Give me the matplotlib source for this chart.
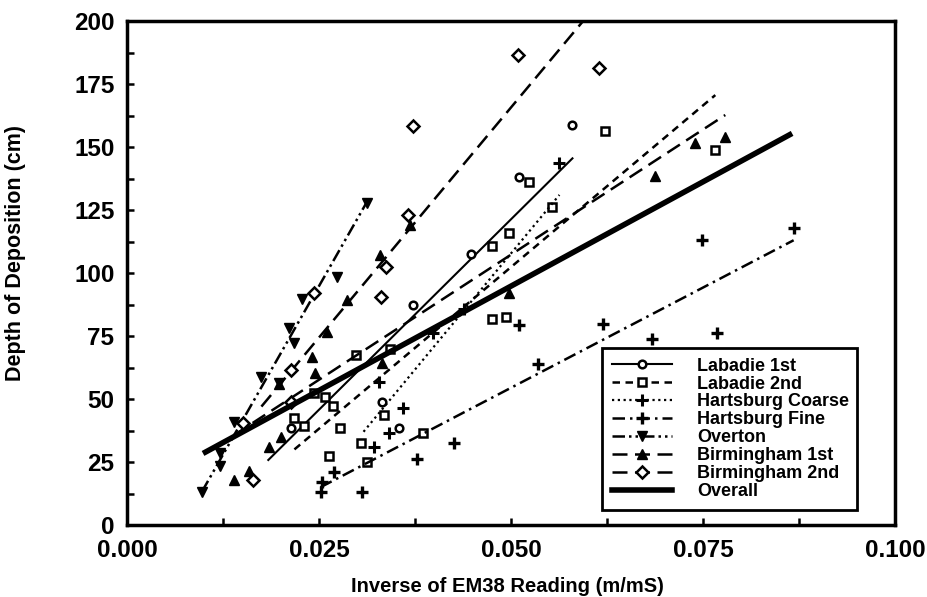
import numpy as np
import matplotlib
matplotlib.use("Agg")
import matplotlib.pyplot as plt
from matplotlib.lines import Line2D
from matplotlib.ticker import MultipleLocator, FormatStrFormatter

plt.rcParams['font.family'] = ['Liberation Sans', 'DejaVu Sans']
plt.rcParams['font.weight'] = 'bold'

# Measured points, x = 1/EM38 (m/mS), y = depth (cm)
lab1_x = [0.0214, 0.0332, 0.0354, 0.0373, 0.0448, 0.0510, 0.0580]
lab1_y = [38.5, 48.8, 38.5, 87.3, 107.5, 138.1, 158.7]

lab2_x = [0.0218, 0.0231, 0.0243, 0.0258, 0.0268, 0.0277, 0.0263, 0.0305, 0.0312,
          0.0298, 0.0334, 0.0385, 0.0343, 0.0475, 0.0498, 0.0524, 0.0554, 0.0623,
          0.0475, 0.0494, 0.0766]
lab2_y = [42.5, 39.3, 52.4, 50.8, 47.2, 38.4, 27.4, 32.4, 25.1,
          67.5, 43.7, 36.6, 69.7, 110.8, 115.7, 136.2, 126.1, 156.3,
          81.6, 82.7, 148.8]

hcoarse_x = [0.0321, 0.0341, 0.0359, 0.0328, 0.0398, 0.0439, 0.0563]
hcoarse_y = [30.8, 36.4, 46.3, 56.9, 76.0, 85.6, 143.5]

hfine_x = [0.0252, 0.0254, 0.0270, 0.0306, 0.0377, 0.0426, 0.0510, 0.0535,
           0.0620, 0.0684, 0.0749, 0.0768, 0.0868]
hfine_y = [13.2, 17.0, 21.0, 13.2, 26.1, 32.7, 79.4, 63.9,
           79.8, 73.7, 113.1, 76.3, 117.7]

overton_x = [0.00975, 0.0121, 0.0121, 0.0139, 0.0175, 0.0198, 0.0211, 0.0217,
             0.0228, 0.0274, 0.0312]
overton_y = [13.2, 23.5, 28.4, 41.0, 58.9, 56.2, 78.0, 72.1, 89.6, 98.5, 127.9]

birm1_x = [0.0139, 0.0159, 0.0185, 0.0200, 0.0198, 0.0241, 0.0245, 0.0261,
           0.0287, 0.0330, 0.0332, 0.0369, 0.0497, 0.0687, 0.0739, 0.0779]
birm1_y = [17.9, 21.5, 31.1, 35.0, 56.0, 66.8, 60.2, 76.7,
           89.3, 107.1, 64.2, 119.0, 91.9, 138.5, 151.5, 153.8]

birm2_x = [0.0164, 0.0151, 0.0213, 0.0213, 0.0243, 0.0331, 0.0337, 0.0366,
           0.0372, 0.0509, 0.0615]
birm2_y = [17.9, 40.5, 48.9, 61.5, 91.9, 90.6, 102.5, 123.0,
           158.3, 186.5, 181.3]

# Regression line end points
lab1_fit_x, lab1_fit_y = [0.0184, 0.0580], [25.8, 145.5]
lab2_fit_x, lab2_fit_y = [0.0218, 0.0766], [30.0, 170.6]
hcoarse_fit_x, hcoarse_fit_y = [0.0308, 0.0563], [37.0, 131.0]
hfine_fit_x, hfine_fit_y = [0.0252, 0.0868], [15.0, 113.0]
overton_fit_x, overton_fit_y = [0.00975, 0.0312], [13.2, 128.0]
birm1_fit_x, birm1_fit_y = [0.0139, 0.0779], [35.6, 162.7]
birm2_fit_x, birm2_fit_y = [0.0175, 0.0615], [47.0, 207.7]
overall_fit_x, overall_fit_y = [0.0099, 0.0866], [28.4, 155.4]

labels = ["Labadie 1st", "Labadie 2nd", "Hartsburg Coarse", "Hartsburg Fine",
          "Overton", "Birmingham 1st", "Birmingham 2nd", "Overall"]

series = [
    (lab1_x, lab1_y, lab1_fit_x, lab1_fit_y,
     dict(ls='-', lw=1.5), dict(marker='o', ms=5.5, mfc='white', mew=1.8)),
    (lab2_x, lab2_y, lab2_fit_x, lab2_fit_y,
     dict(ls=(0, (3, 2.2)), lw=1.8), dict(marker='s', ms=6, mfc='white', mew=1.8)),
    (hcoarse_x, hcoarse_y, hcoarse_fit_x, hcoarse_fit_y,
     dict(ls=(0, (1, 1.6)), lw=1.6), dict(marker='+', ms=8, mew=2.2)),
    (hfine_x, hfine_y, hfine_fit_x, hfine_fit_y,
     dict(ls=(0, (5, 2, 1, 2)), lw=1.8), dict(marker='+', ms=8, mew=2.4)),
    (overton_x, overton_y, overton_fit_x, overton_fit_y,
     dict(ls=(0, (5, 1.6, 1, 1.6, 1, 1.6)), lw=1.8), dict(marker='v', ms=7, mfc='black', mew=1)),
    (birm1_x, birm1_y, birm1_fit_x, birm1_fit_y,
     dict(ls=(0, (6, 3)), lw=1.8), dict(marker='^', ms=7, mfc='black', mew=1)),
    (birm2_x, birm2_y, birm2_fit_x, birm2_fit_y,
     dict(ls=(0, (6, 3)), lw=1.8), dict(marker='D', ms=6, mfc='white', mew=1.8)),
]

fig = plt.figure(figsize=(9.27, 5.97), dpi=100)
ax = fig.add_axes([0.137, 0.1206, 0.8285, 0.8442])

handles = []
for xs, ys, fx, fy, lstyle, mstyle in series:
    ax.plot(fx, fy, color='black', **lstyle)
    ax.plot(xs, ys, ls='none', color='black', mec='black', **mstyle)
    handles.append(Line2D([], [], color='black', mec='black', **lstyle, **mstyle))

ax.plot(overall_fit_x, overall_fit_y, color='black', lw=4, solid_capstyle='butt')
handles.append(Line2D([], [], color='black', lw=4))

ax.set_xlim(0, 0.1)
ax.set_ylim(0, 200)
ax.xaxis.set_major_locator(MultipleLocator(0.025))
ax.xaxis.set_minor_locator(MultipleLocator(0.0125))
ax.yaxis.set_major_locator(MultipleLocator(25))
ax.yaxis.set_minor_locator(MultipleLocator(12.5))
ax.xaxis.set_major_formatter(FormatStrFormatter('%.3f'))
ax.tick_params(which='both', direction='in', length=5, width=1.8, labelsize=17.5)
ax.tick_params(axis='x', pad=10)
ax.tick_params(axis='y', pad=9)
for s in ax.spines.values():
    s.set_linewidth(2.5)

ax.set_xlabel("Inverse of EM38 Reading (m/mS)", fontsize=14.5, fontweight='bold')
ax.set_ylabel("Depth of Deposition (cm)", fontsize=15.5, fontweight='bold')
ax.xaxis.set_label_coords(0.495, -0.103)
ax.yaxis.set_label_coords(-0.132, 0.54)

leg = ax.legend(handles, labels, loc='lower left', bbox_to_anchor=(0.619, 0.03, 0.331, 0.317),
                mode='expand', borderaxespad=0, fontsize=13, handlelength=3.3,
                labelspacing=0.05, handletextpad=1.4, borderpad=0.55,
                fancybox=False, framealpha=1)
leg.get_frame().set_edgecolor('black')
leg.get_frame().set_linewidth(2)

fig.savefig("out.png", dpi=100)
